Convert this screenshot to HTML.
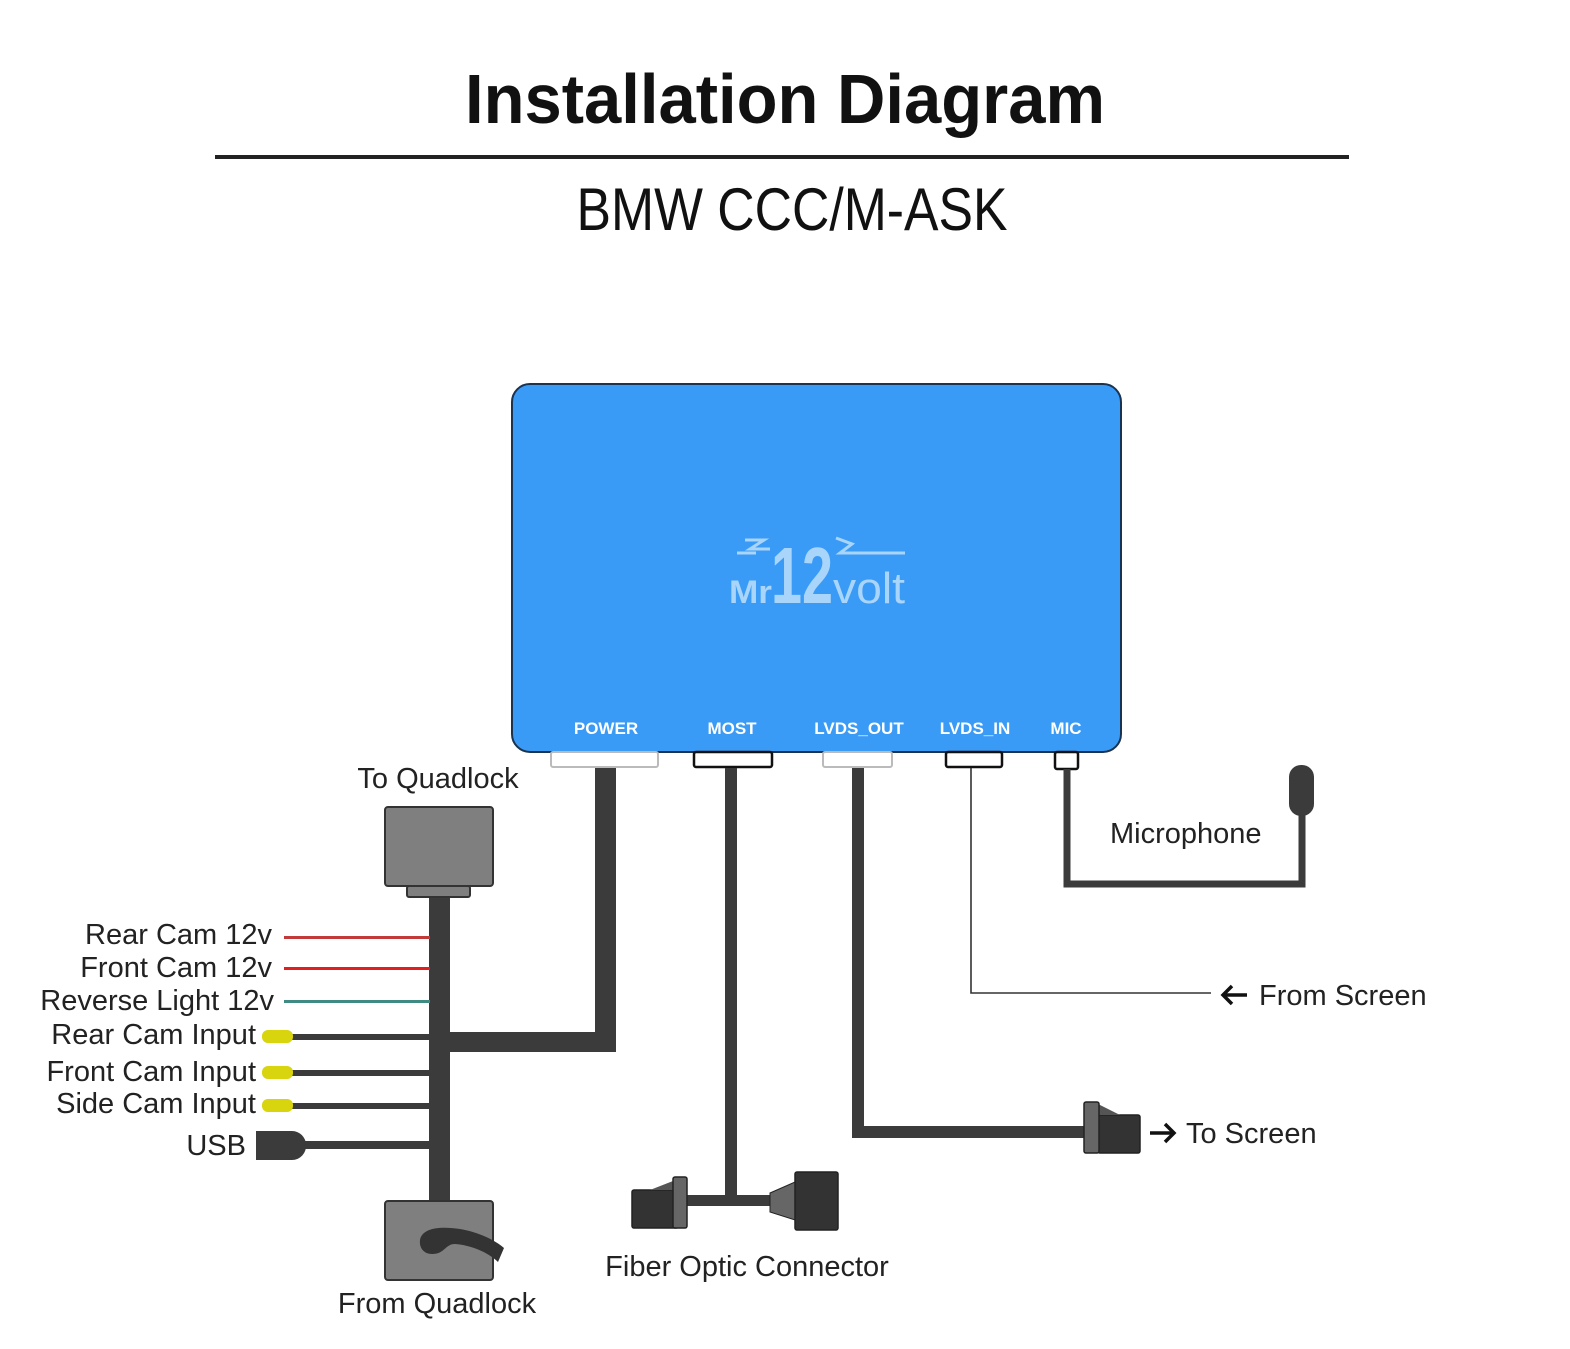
<!DOCTYPE html>
<html><head><meta charset="utf-8"><style>html,body{margin:0;padding:0;background:#fff}svg{display:block}</style></head>
<body>
<svg width="1570" height="1349" viewBox="0 0 1570 1349" xmlns="http://www.w3.org/2000/svg" font-family="Liberation Sans, sans-serif">
<rect width="1570" height="1349" fill="#fff"/>
<text x="785" y="123" font-size="70" font-weight="bold" text-anchor="middle" textLength="640" lengthAdjust="spacingAndGlyphs" fill="#111">Installation Diagram</text>
<rect x="215" y="155" width="1134" height="4" fill="#222"/>
<text x="792" y="230" font-size="60" text-anchor="middle" textLength="431" lengthAdjust="spacingAndGlyphs" fill="#111">BMW CCC/M-ASK</text>

<rect x="512" y="384" width="609" height="368" rx="18" fill="#3a9bf7" stroke="#1a3350" stroke-width="2"/>
<g fill="#a9d5fb">
<text x="729" y="603" font-size="32" font-weight="bold" textLength="43" lengthAdjust="spacingAndGlyphs">Mr</text>
<text x="771" y="603" font-size="80" font-weight="bold" textLength="62" lengthAdjust="spacingAndGlyphs">12</text>
<text x="833" y="603" font-size="44" textLength="72" lengthAdjust="spacingAndGlyphs">volt</text>
</g>
<g stroke="#a9d5fb" stroke-width="3" fill="none">
<polyline points="745,540 764,540 750,549 770,549"/>
<polyline points="836,538 852,544 840,553 905,553"/>
<polyline points="737,553 756,553"/>
</g>
<g font-size="17" font-weight="bold" fill="#fff" text-anchor="middle">
<text x="606" y="734">POWER</text>
<text x="732" y="734">MOST</text>
<text x="859" y="734">LVDS_OUT</text>
<text x="975" y="734">LVDS_IN</text>
<text x="1066" y="734">MIC</text>
</g>
<rect x="551" y="752" width="107" height="15" rx="2" fill="#fff" stroke="#bbb" stroke-width="2"/>
<rect x="694" y="752" width="78" height="15" rx="2" fill="#fff" stroke="#111" stroke-width="2.5"/>
<rect x="823" y="752" width="69" height="15" rx="2" fill="#fff" stroke="#bbb" stroke-width="2"/>
<rect x="946" y="752" width="56" height="15" rx="2" fill="#fff" stroke="#111" stroke-width="2.5"/>
<rect x="1055" y="752" width="23" height="17" rx="2" fill="#fff" stroke="#111" stroke-width="2.5"/>

<g fill="#3b3b3b">
<rect x="595" y="768" width="21" height="284"/>
<rect x="440" y="1032" width="176" height="20"/>
<rect x="429" y="897" width="21" height="303"/>
</g>
<rect x="385" y="807" width="108" height="79" rx="3" fill="#7f7f7f" stroke="#333" stroke-width="2"/>
<rect x="407" y="886" width="63" height="11" rx="2" fill="#7f7f7f" stroke="#333" stroke-width="2"/>
<rect x="385" y="1201" width="108" height="79" rx="3" fill="#7f7f7f" stroke="#333" stroke-width="2"/>
<path d="M420,1240 C422,1228 440,1226 460,1229 C478,1232 495,1240 504,1248 L498,1262 C488,1252 470,1245 455,1244 C445,1244 445,1254 432,1254 C424,1254 419,1248 420,1240 Z" fill="#333"/>

<rect x="284" y="936" width="146" height="3" fill="#c23a3a"/>
<rect x="284" y="967" width="146" height="3" fill="#e21e1e"/>
<rect x="284" y="1000" width="146" height="3" fill="#3f8a82"/>
<g fill="#3b3b3b">
<rect x="290" y="1034" width="140" height="6"/>
<rect x="290" y="1070" width="140" height="6"/>
<rect x="290" y="1103" width="140" height="6"/>
<rect x="300" y="1141" width="130" height="8"/>
<path d="M256,1131 H292 A14,14 0 0 1 306,1145 A14,14 0 0 1 292,1160 H256 Z"/>
</g>
<g fill="#d8d40e">
<rect x="262" y="1030" width="31" height="13" rx="6"/>
<rect x="262" y="1066" width="31" height="13" rx="6"/>
<rect x="262" y="1099" width="31" height="13" rx="6"/>
</g>

<g fill="#3b3b3b">
<rect x="725" y="768" width="12" height="437"/>
<rect x="686" y="1195" width="90" height="11"/>
</g>
<rect x="632" y="1190" width="46" height="38" rx="2" fill="#333" stroke="#222" stroke-width="1.5"/>
<path d="M650,1190 L673,1181 L673,1190 Z" fill="#555"/>
<rect x="673" y="1177" width="14" height="51" rx="2" fill="#666" stroke="#222" stroke-width="1.5"/>
<path d="M770,1193 L795,1182 L795,1220 L770,1212 Z" fill="#666" stroke="#222" stroke-width="1"/>
<rect x="795" y="1172" width="43" height="58" rx="2" fill="#333" stroke="#222" stroke-width="1.5"/>

<g fill="#3b3b3b">
<rect x="852" y="768" width="12" height="370"/>
<rect x="852" y="1126" width="235" height="12"/>
</g>
<rect x="1098" y="1115" width="42" height="38" rx="2" fill="#333" stroke="#222" stroke-width="1.5"/>
<path d="M1098,1104 L1120,1115 L1098,1115 Z" fill="#555"/>
<rect x="1084" y="1102" width="15" height="51" rx="2" fill="#666" stroke="#222" stroke-width="1.5"/>

<polyline points="971,768 971,993 1211,993" fill="none" stroke="#333" stroke-width="1.6"/>

<polyline points="1067,769 1067,884 1302,884 1302,810" fill="none" stroke="#3b3b3b" stroke-width="7"/>
<rect x="1289" y="765" width="25" height="51" rx="12" fill="#3b3b3b"/>

<g font-size="29" fill="#222">
<text x="438" y="788" text-anchor="middle">To Quadlock</text>
<text x="437" y="1313" text-anchor="middle">From Quadlock</text>
<text x="747" y="1276" text-anchor="middle">Fiber Optic Connector</text>
<text x="1110" y="843">Microphone</text>
<text x="1259" y="1005">From Screen</text>
<text x="1186" y="1143">To Screen</text>
<g text-anchor="end">
<text x="272" y="944">Rear Cam 12v</text>
<text x="272" y="977">Front Cam 12v</text>
<text x="274" y="1010">Reverse Light 12v</text>
<text x="256" y="1044">Rear Cam Input</text>
<text x="256" y="1081">Front Cam Input</text>
<text x="256" y="1113">Side Cam Input</text>
<text x="246" y="1155">USB</text>
</g>
</g>
<g fill="none" stroke="#111" stroke-width="3.5">
<line x1="1224" y1="995" x2="1247" y2="995"/>
<polyline points="1232,986 1223,995 1232,1004"/>
<line x1="1150" y1="1133" x2="1173" y2="1133"/>
<polyline points="1165,1124 1174,1133 1165,1142"/>
</g>
</svg>
</body></html>
